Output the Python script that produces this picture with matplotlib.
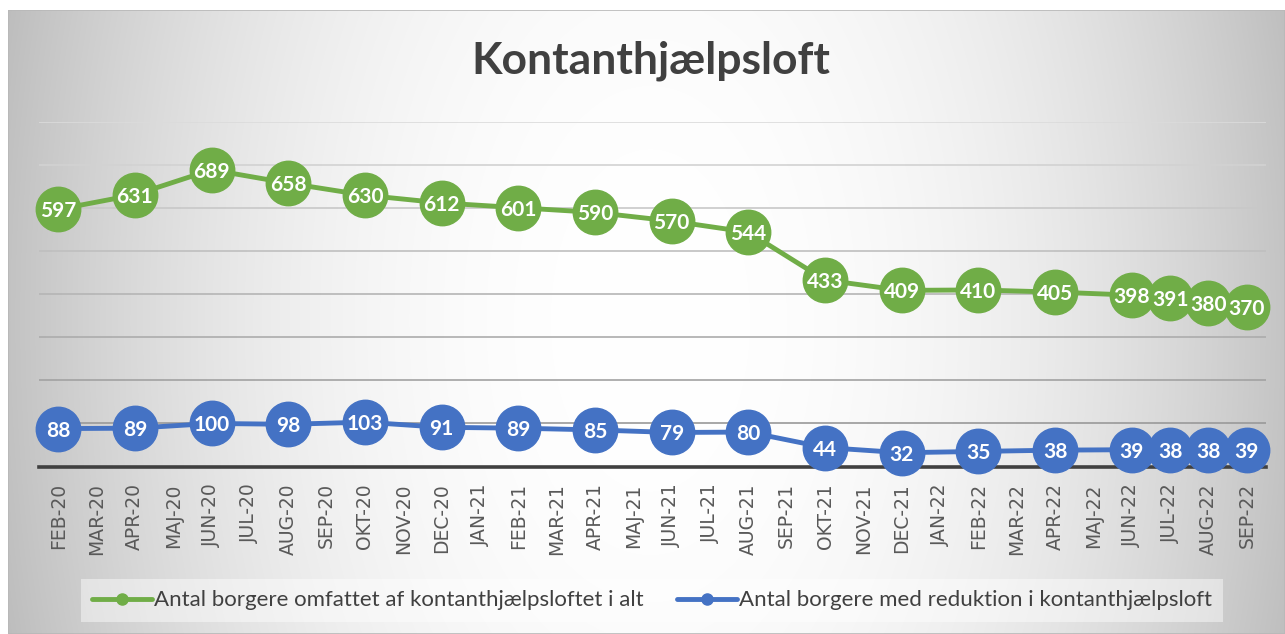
import numpy as np
import matplotlib
matplotlib.use('Agg')
import matplotlib.pyplot as plt
from matplotlib.lines import Line2D
from matplotlib.patches import Rectangle

# -- data -- #
months = ['FEB-20', 'MAR-20', 'APR-20', 'MAJ-20', 'JUN-20', 'JUL-20', 'AUG-20', 'SEP-20',
          'OKT-20', 'NOV-20', 'DEC-20', 'JAN-21', 'FEB-21', 'MAR-21', 'APR-21', 'MAJ-21',
          'JUN-21', 'JUL-21', 'AUG-21', 'SEP-21', 'OKT-21', 'NOV-21', 'DEC-21', 'JAN-22',
          'FEB-22', 'MAR-22', 'APR-22', 'MAJ-22', 'JUN-22', 'JUL-22', 'AUG-22', 'SEP-22']
obs_months = ['FEB-20', 'APR-20', 'JUN-20', 'AUG-20', 'OKT-20', 'DEC-20', 'FEB-21', 'APR-21',
              'JUN-21', 'AUG-21', 'OKT-21', 'DEC-21', 'FEB-22', 'APR-22', 'JUN-22', 'JUL-22',
              'AUG-22', 'SEP-22']
total = [597, 631, 689, 658, 630, 612, 601, 590, 570, 544, 433, 409, 410, 405, 398, 391, 380, 370]
reduced = [88, 89, 100, 98, 103, 91, 89, 85, 79, 80, 44, 32, 35, 38, 39, 38, 38, 39]

label_total = 'Antal borgere omfattet af kontanthjælpsloftet i alt'
label_reduced = 'Antal borgere med reduktion i kontanthjælpsloft'
title = 'Kontanthjælpsloft'

green = '#70AD47'
blue = '#4472C4'
dark = '#404040'

W, H = 1285, 634
fig = plt.figure(figsize=(W/100, H/100), dpi=100)
fig.patch.set_facecolor('white')

# radial-ish grey gradient background (chart area starts a few px in)
x0, y0 = 8, 10
bg = fig.add_axes([x0/W, 0, 1 - x0/W, (H - y0)/H], zorder=-5)
xx, yy = np.meshgrid(np.arange(x0, W), np.arange(y0, H))
r = np.sqrt(((xx - 650)/640.0)**2 + ((yy - 320)/1100.0)**2)
shade = 255 - 60*np.clip(r, 0, 1.3)**2.2
img = np.dstack([shade, shade, shade]) / 255.0
bg.imshow(img, aspect='auto', interpolation='bilinear')
bg.axis('off')
bg.add_patch(Rectangle((0, 0), 1, 1, transform=bg.transAxes, fill=False,
                       edgecolor='#b8b8b8', lw=1.2))

# plot area
ax = fig.add_axes([39/W, 1 - 466.5/H, (1266 - 39)/W, (466.5 - 122)/H])
ax.set_facecolor('none')
ax.set_xlim(-0.5, len(months) - 0.5)
ax.set_ylim(0, 800)

xs = [months.index(m) for m in obs_months]

ax.plot(xs, reduced, color=blue, lw=3.5, marker='o', ms=32, mfc=blue, mec=blue,
        clip_on=False, zorder=4, solid_capstyle='round')
ax.plot(xs, total, color=green, lw=3.5, marker='o', ms=32, mfc=green, mec=green,
        clip_on=False, zorder=5, solid_capstyle='round')

for x, v in zip(xs, total):
    ax.text(x, v, str(v), ha='center', va='center_baseline', color='white', fontsize=15,
            fontweight='bold', family='Lato', zorder=10)
for x, v in zip(xs, reduced):
    ax.text(x, v, str(v), ha='center', va='center_baseline', color='white', fontsize=15,
            fontweight='bold', family='Lato', zorder=10)

# gridlines, lighter towards the top like the original
ax.set_yticks(np.arange(100, 801, 100))
ax.yaxis.grid(True, lw=1.2)
ax.set_axisbelow(True)
grid_cols = np.linspace(0.60, 0.86, 8)
for gl, c in zip(ax.get_ygridlines(), grid_cols):
    gl.set_color(str(c))
ax.tick_params(axis='y', length=0, labelleft=False)

ax.set_xticks(range(len(months)))
ax.set_xticklabels(months, rotation=90, fontsize=13.5, color='#595959', family='DejaVu Sans')
ax.tick_params(axis='x', length=0, pad=12)

for s in ['top', 'left', 'right']:
    ax.spines[s].set_visible(False)
ax.spines['bottom'].set_color(dark)
ax.spines['bottom'].set_linewidth(2.6)
ax.spines['bottom'].set_zorder(3)

fig.text(651/W, 1 - 61/H, title, ha='center', va='center', fontsize=32, fontweight='bold',
         color=dark, family='Lato')

handles = [Line2D([], [], color=green, lw=3.5, marker='o', ms=8, solid_capstyle='round'),
           Line2D([], [], color=blue, lw=3.5, marker='o', ms=8, solid_capstyle='round')]
leg = fig.legend(handles, [label_total, label_reduced], loc='center',
                 bbox_to_anchor=(652/W, 1 - 600.5/H), ncol=2, frameon=True, fancybox=False,
                 prop={'family': 'Lato', 'size': 16}, handlelength=2.7, handletextpad=0.1,
                 columnspacing=1.5, borderpad=0.5, borderaxespad=0)
leg.get_frame().set_facecolor('white')
leg.get_frame().set_alpha(0.45)
leg.get_frame().set_edgecolor('none')
for t in leg.get_texts():
    t.set_color(dark)

fig.savefig('out.png', dpi=100)
